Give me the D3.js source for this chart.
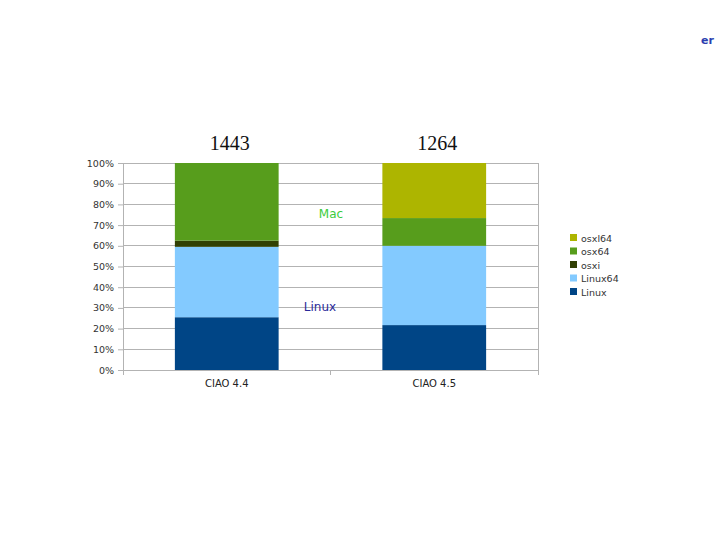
<!DOCTYPE html>
<html><head><meta charset="utf-8">
<script src="https://cdn.jsdelivr.net/npm/d3@7"></script>
<style>body{margin:0;background:#fff}svg{display:block}</style>
</head><body>
<svg id="c" width="720" height="540"></svg>
<script>
const categories = ["CIAO 4.4", "CIAO 4.5"];
const totals = ["1443", "1264"];
const seriesNames = ["Linux", "Linux64", "osxi", "osx64", "osxl64"];
const Linux   = [25.5, 21.7];
const Linux64 = [34.0, 38.3];
const osxi    = [3.0, 0.0];
const osx64   = [37.5, 13.4];
const osxl64  = [0.0, 26.6];
const yTicks = [0,10,20,30,40,50,60,70,80,90,100];
const colors = ["#004586", "#83caff", "#314004", "#579d1c", "#adb500"];

const svg = d3.select("#c");
const L = 123, R = 538, T = 163, B = 370;
const x = d3.scaleBand().domain(categories).range([L, R]).paddingInner(0.5).paddingOuter(0.25);
const y = d3.scaleLinear().domain([0, 100]).range([B, T]);

// gridlines
svg.append("g").selectAll("line").data(yTicks).join("line")
  .attr("x1", L).attr("x2", R).attr("y1", d => y(d)).attr("y2", d => y(d))
  .attr("stroke", "#b3b3b3").attr("stroke-width", 1).attr("shape-rendering", "crispEdges");
svg.append("line").attr("x1", R).attr("x2", R).attr("y1", T).attr("y2", B)
  .attr("stroke", "#b3b3b3").attr("shape-rendering", "crispEdges");

// stacked bars
const rows = categories.map((c, i) => ({cat: c, Linux: Linux[i], Linux64: Linux64[i], osxi: osxi[i], osx64: osx64[i], osxl64: osxl64[i]}));
const stack = d3.stack().keys(seriesNames)(rows);
svg.append("g").selectAll("g").data(stack).join("g")
  .attr("fill", (d, i) => colors[i])
  .selectAll("rect").data(d => d).join("rect")
  .attr("x", d => x(d.data.cat)).attr("width", x.bandwidth())
  .attr("y", d => y(d[1])).attr("height", d => y(d[0]) - y(d[1]));

// axes
const yAxis = d3.axisLeft(y).tickValues(yTicks).tickFormat(d => d + "%").tickSize(5).tickSizeOuter(0);
const gy = svg.append("g").attr("transform", `translate(${L},0)`).call(yAxis);
gy.select(".domain").attr("stroke", "#b3b3b3");
gy.selectAll(".tick line").attr("stroke", "#b3b3b3");
gy.selectAll("text").attr("font-family", "DejaVu Sans, sans-serif").attr("font-size", 9.5).attr("fill", "#333").attr("dx", -1);

const gx = svg.append("g").attr("transform", `translate(0,${B})`);
gx.append("line").attr("x1", L).attr("x2", R).attr("stroke", "#b3b3b3").attr("shape-rendering", "crispEdges");
const bounds = [L, (x(categories[0]) + x.bandwidth() + x(categories[1])) / 2, R];
gx.selectAll("line.t").data(bounds).join("line").attr("class", "t")
  .attr("x1", d => d).attr("x2", d => d).attr("y1", 0).attr("y2", 5)
  .attr("stroke", "#b3b3b3").attr("shape-rendering", "crispEdges");
gx.selectAll("text").data(categories).join("text")
  .attr("x", d => x(d) + x.bandwidth() / 2).attr("y", 17)
  .attr("text-anchor", "middle").attr("font-family", "DejaVu Sans, sans-serif")
  .attr("font-size", 10).attr("fill", "#222").text(d => d);

// totals above bars
svg.selectAll("text.tot").data(categories).join("text").attr("class", "tot")
  .attr("x", d => x(d) + x.bandwidth() / 2 + 3).attr("y", 150)
  .attr("text-anchor", "middle").attr("font-family", "Liberation Serif, serif")
  .attr("font-size", 20).attr("fill", "#111").text((d, i) => totals[i]);

// annotations
svg.append("text").attr("x", 331).attr("y", 218).attr("text-anchor", "middle")
  .attr("font-family", "DejaVu Sans, sans-serif").attr("font-size", 12).attr("fill", "#3ccc3c").text("Mac");
svg.append("text").attr("x", 320).attr("y", 311).attr("text-anchor", "middle")
  .attr("font-family", "DejaVu Sans, sans-serif").attr("font-size", 12).attr("fill", "#2a2a9a").text("Linux");

// legend
const legendOrder = seriesNames.map((n, i) => ({n, c: colors[i]})).reverse();
const lg = svg.append("g").selectAll("g").data(legendOrder).join("g")
  .attr("transform", (d, i) => `translate(570,${238 + i * 13.5})`);
lg.append("rect").attr("x", 0).attr("y", -4).attr("width", 7).attr("height", 7).attr("fill", d => d.c);
lg.append("text").attr("x", 11).attr("y", 3.5).attr("font-family", "DejaVu Sans, sans-serif")
  .attr("font-size", 9.5).attr("fill", "#333").text(d => d.n);

// cut-off text at top right
svg.append("text").attr("x", 701).attr("y", 44).attr("font-family", "DejaVu Sans, sans-serif")
  .attr("font-size", 11).attr("font-weight", "bold").attr("fill", "#2b3fb0").text("er");
</script>
</body></html>
